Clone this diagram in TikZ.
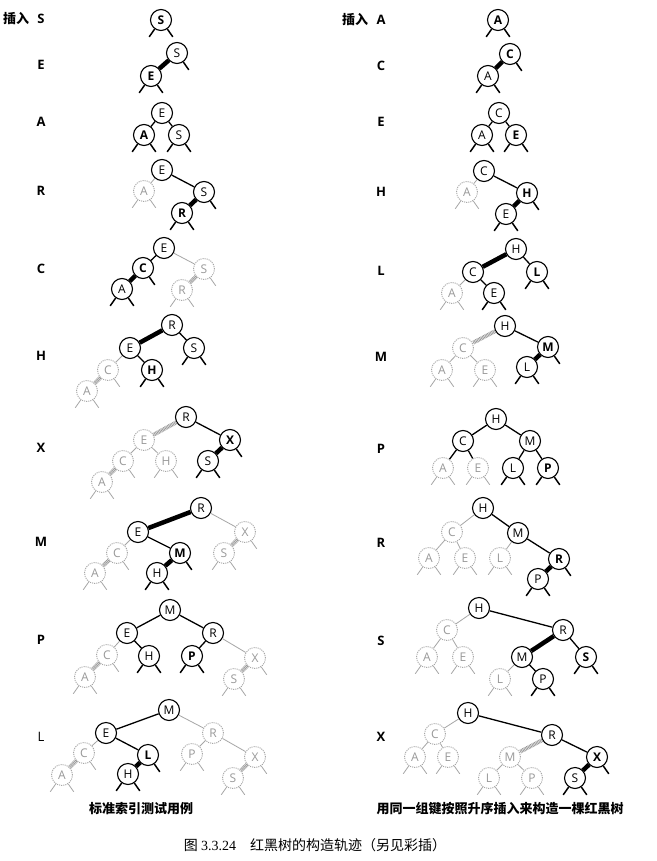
\documentclass[tikz,border=0pt]{standalone}
\usepackage{fontspec}
\newfontfamily\cjk{Noto Sans CJK SC}
\newfontfamily\nfont{Open Sans}
\newfontfamily\capser{Liberation Serif}
\tikzset{
  bn/.style={circle,draw=black,line width=1.1pt,fill=white,minimum size=21pt,inner sep=0pt,font=\nfont\fontsize{12}{12}\selectfont},
  bb/.style={bn,font=\nfont\bfseries\fontsize{12}{12}\selectfont},
  gn/.style={bn,draw=black!35,densely dotted,line width=0.9pt,text=black!40},
  lk/.style={line width=1.3pt,black},
  rl/.style={line width=4.5pt,black},
  gl/.style={line width=0.8pt,black!35},
  grl/.style={line width=4pt,black!40,dash pattern=on 0.8pt off 0.7pt},
  stb/.style={line width=1.5pt,black},
  gstb/.style={line width=0.8pt,black!35},
  lbl/.style={font=\nfont\bfseries\fontsize{13}{13}\selectfont,inner sep=0pt},
  capstyle/.style={font=\cjk\bfseries\fontsize{13}{13}\selectfont,inner sep=0pt},
}
\newcommand\nd[5][bn]{\node[#1] (#2) at (#3,-#4) {#5};}
\newcommand\stL[2][stb]{\draw[#1] (#2.-125) -- ++(-125:9.5);}
\newcommand\stR[2][stb]{\draw[#1] (#2.-55) -- ++(-55:9.5);}
\newcommand\stB[2][stb]{\stL[#1]{#2}\stR[#1]{#2}}
\begin{document}
\begin{tikzpicture}[x=1pt,y=1pt]
\useasboundingbox[fill=white] (0,0) rectangle (656,-861);
% ---------------- labels
\node[lbl,font=\cjk\bfseries\fontsize{13}{13}\selectfont,anchor=west] (lA0) at (3,-19) {插入};
\node[lbl] (lA1) at (41,-19) {S};
\node[lbl] (lA2) at (41,-65) {E};
\node[lbl] (lA3) at (41,-122) {A};
\node[lbl] (lA4) at (41,-191) {R};
\node[lbl] (lA5) at (41,-269) {C};
\node[lbl] (lA6) at (41,-356) {H};
\node[lbl] (lA7) at (41,-448) {X};
\node[lbl] (lA8) at (41,-542) {M};
\node[lbl] (lA9) at (41,-640) {P};
\node[lbl,font=\nfont\fontsize{13}{13}\selectfont] (lA10) at (41,-737) {L};
\node[lbl,font=\cjk\bfseries\fontsize{13}{13}\selectfont,anchor=west] (lB0) at (342,-20) {插入};
\node[lbl] (lB1) at (381,-20) {A};
\node[lbl] (lB2) at (381,-66) {C};
\node[lbl] (lB3) at (381,-122) {E};
\node[lbl] (lB4) at (381,-192) {H};
\node[lbl] (lB5) at (381,-271) {L};
\node[lbl] (lB6) at (381,-357) {M};
\node[lbl] (lB7) at (381,-449) {P};
\node[lbl] (lB8) at (381,-543) {R};
\node[lbl] (lB9) at (381,-641) {S};
\node[lbl] (lB10) at (381,-737) {X};
% ---------------- captions
\node[capstyle] (capL) at (141,-809) {标准索引测试用例};
\node[capstyle] (capR) at (500,-809) {用同一组键按照升序插入来构造一棵红黑树};
\node[inner sep=0pt,font=\cjk\fontsize{14}{14}\selectfont] (capF) at (315,-845) {图 {\capser 3.3.24}\quad 红黑树的构造轨迹（另见彩插）};
% ================= LEFT COLUMN
% L1
\nd[bb]{a1S}{161}{20}{S} \stB{a1S}
% L2
\nd{a2S}{177}{53}{S} \nd[bb]{a2E}{151}{76}{E}
\draw[rl] (a2S)--(a2E); \stR{a2S} \stB{a2E}
% L3
\nd{a3E}{162}{113}{E} \nd[bb]{a3A}{144}{135}{A} \nd{a3S}{179}{135}{S}
\draw[lk] (a3E)--(a3A) (a3E)--(a3S); \stB{a3A} \stB{a3S}
% L4
\nd{a4E}{162}{170}{E} \nd[gn]{a4A}{144}{191}{A} \nd{a4S}{204}{192}{S} \nd[bb]{a4R}{182}{213}{R}
\draw[gl] (a4E)--(a4A); \draw[lk] (a4E)--(a4S); \draw[rl] (a4S)--(a4R);
\stR{a4S} \stB{a4R} \stB[gstb]{a4A}
% L5
\nd{a5E}{164}{248}{E} \nd[bb]{a5C}{143}{268}{C} \nd{a5A}{122}{289}{A} \nd[gn]{a5S}{204}{269}{S} \nd[gn]{a5R}{182}{290}{R}
\draw[lk] (a5E)--(a5C); \draw[rl] (a5C)--(a5A); \draw[gl] (a5E)--(a5S); \draw[grl] (a5S)--(a5R);
\stR{a5C} \stB{a5A} \stR[gstb]{a5S} \stB[gstb]{a5R}
% L6
\nd{a6R}{172}{325}{R} \nd{a6E}{130}{348}{E} \nd{a6S}{194}{348}{S} \nd[bb]{a6H}{152}{370}{H} \nd[gn]{a6C}{108}{370}{C} \nd[gn]{a6A}{87}{391}{A}
\draw[rl] (a6R)--(a6E); \draw[lk] (a6R)--(a6S) (a6E)--(a6H); \draw[gl] (a6E)--(a6C); \draw[grl] (a6C)--(a6A);
\stB{a6S} \stB{a6H} \stR[gstb]{a6C} \stB[gstb]{a6A}
% L7
\nd{a7R}{186}{417}{R} \nd[bb]{a7X}{230}{440}{X} \nd{a7S}{208}{461}{S} \nd[gn]{a7E}{144}{440}{E} \nd[gn]{a7C}{123}{461}{C} \nd[gn]{a7H}{166}{461}{H} \nd[gn]{a7A}{102}{482}{A}
\draw[lk] (a7R)--(a7X); \draw[rl] (a7X)--(a7S); \draw[grl] (a7R)--(a7E); \draw[gl] (a7E)--(a7C) (a7E)--(a7H); \draw[grl] (a7C)--(a7A);
\stR{a7X} \stB{a7S} \stR[gstb]{a7C} \stB[gstb]{a7H} \stB[gstb]{a7A}
% L8
\nd{a8R}{201}{508}{R} \nd{a8E}{138}{532}{E} \nd[bb]{a8M}{180}{553}{M} \nd{a8H}{157}{573}{H} \nd[gn]{a8X}{245}{532}{X} \nd[gn]{a8S}{224}{553}{S} \nd[gn]{a8C}{117}{553}{C} \nd[gn]{a8A}{95}{573}{A}
\draw[rl] (a8R)--(a8E); \draw[lk] (a8E)--(a8M); \draw[rl] (a8M)--(a8H); \draw[gl] (a8R)--(a8X) (a8E)--(a8C); \draw[grl] (a8X)--(a8S) (a8C)--(a8A);
\stR{a8M} \stB{a8H} \stR[gstb]{a8X} \stB[gstb]{a8S} \stR[gstb]{a8C} \stB[gstb]{a8A}
% L9
\nd{a9M}{170}{610}{M} \nd{a9E}{127}{633}{E} \nd{a9R}{213}{633}{R} \nd{a9H}{149}{656}{H} \nd[bb]{a9P}{192}{656}{P} \nd[gn]{a9C}{107}{655}{C} \nd[gn]{a9A}{85}{677}{A} \nd[gn]{a9X}{255}{658}{X} \nd[gn]{a9S}{234}{679}{S}
\draw[lk] (a9M)--(a9E) (a9M)--(a9R) (a9E)--(a9H) (a9R)--(a9P); \draw[gl] (a9E)--(a9C) (a9R)--(a9X); \draw[grl] (a9C)--(a9A) (a9X)--(a9S);
\stB{a9H} \stB{a9P} \stR[gstb]{a9C} \stR[gstb]{a9X} \stB[gstb]{a9A} \stB[gstb]{a9S}
% L10
\nd{a10M}{169}{710}{M} \nd{a10E}{106}{733}{E} \nd[bb]{a10L}{148}{755}{L} \nd{a10H}{128}{774}{H} \nd[gn]{a10C}{84}{753}{C} \nd[gn]{a10A}{62}{775}{A} \nd[gn]{a10R}{213}{733}{R} \nd[gn]{a10P}{192}{754}{P} \nd[gn]{a10X}{255}{757}{X} \nd[gn]{a10S}{233}{778}{S}
\draw[lk] (a10M)--(a10E) (a10E)--(a10L); \draw[rl] (a10L)--(a10H); \draw[gl] (a10E)--(a10C) (a10M)--(a10R) (a10R)--(a10P) (a10R)--(a10X); \draw[grl] (a10C)--(a10A) (a10X)--(a10S);
\stR{a10L} \stB{a10H} \stR[gstb]{a10C} \stB[gstb]{a10A} \stB[gstb]{a10P} \stR[gstb]{a10X} \stB[gstb]{a10S}
% ================= RIGHT COLUMN
% R1
\nd[bb]{b1A}{498}{20}{A} \stB{b1A}
% R2
\nd[bb]{b2C}{510}{54}{C} \nd{b2A}{488}{76}{A}
\draw[rl] (b2C)--(b2A); \stR{b2C} \stB{b2A}
% R3
\nd{b3C}{499}{113}{C} \nd{b3A}{482}{135}{A} \nd[bb]{b3E}{516}{135}{E}
\draw[lk] (b3C)--(b3A) (b3C)--(b3E); \stB{b3A} \stB{b3E}
% R4
\nd{b4C}{484}{171}{C} \nd[gn]{b4A}{467}{192}{A} \nd[bb]{b4H}{527}{193}{H} \nd{b4E}{506}{214}{E}
\draw[gl] (b4C)--(b4A); \draw[lk] (b4C)--(b4H); \draw[rl] (b4H)--(b4E);
\stR{b4H} \stB{b4E} \stB[gstb]{b4A}
% R5
\nd{b5H}{516}{249}{H} \nd{b5C}{473}{272}{C} \nd[bb]{b5L}{537}{272}{L} \nd{b5E}{494}{293}{E} \nd[gn]{b5A}{452}{293}{A}
\draw[rl] (b5H)--(b5C); \draw[lk] (b5H)--(b5L) (b5C)--(b5E); \draw[gl] (b5C)--(b5A);
\stB{b5L} \stB{b5E} \stB[gstb]{b5A}
% R6
\nd{b6H}{505}{326}{H} \nd[bb]{b6M}{548}{347}{M} \nd{b6L}{527}{367}{L} \nd[gn]{b6C}{463}{348}{C} \nd[gn]{b6A}{442}{370}{A} \nd[gn]{b6E}{485}{370}{E}
\draw[grl] (b6H)--(b6C); \draw[lk] (b6H)--(b6M); \draw[rl] (b6M)--(b6L); \draw[gl] (b6C)--(b6A) (b6C)--(b6E);
\stR{b6M} \stB{b6L} \stB[gstb]{b6A} \stB[gstb]{b6E}
% R7
\nd{b7H}{496}{419}{H} \nd{b7C}{463}{441}{C} \nd{b7M}{530}{441}{M} \nd[gn]{b7A}{443}{468}{A} \nd[gn]{b7E}{478}{468}{E} \nd{b7L}{513}{468}{L} \nd[bb]{b7P}{548}{468}{P}
\draw[lk] (b7H)--(b7C) (b7H)--(b7M) (b7M)--(b7L) (b7M)--(b7P) (b7C)--(b7A) (b7C)--(b7E);
\stB{b7L} \stB{b7P} \stB[gstb]{b7A} \stB[gstb]{b7E}
% R8
\nd{b8H}{483}{508}{H} \nd{b8M}{518}{533}{M} \nd[bb]{b8R}{559}{559}{R} \nd{b8P}{538}{579}{P} \nd[gn]{b8C}{452}{532}{C} \nd[gn]{b8A}{429}{558}{A} \nd[gn]{b8E}{465}{558}{E} \nd[gn]{b8L}{500}{558}{L}
\draw[lk] (b8H)--(b8M) (b8M)--(b8R); \draw[rl] (b8R)--(b8P); \draw[gl] (b8H)--(b8C) (b8M)--(b8L) (b8C)--(b8A) (b8C)--(b8E);
\stR{b8R} \stB{b8P} \stB[gstb]{b8A} \stB[gstb]{b8E} \stB[gstb]{b8L}
% R9
\nd{b9H}{479}{608}{H} \nd{b9R}{563}{630}{R} \nd{b9M}{522}{657}{M} \nd[bb]{b9S}{586}{657}{S} \nd{b9P}{543}{679}{P} \nd[gn]{b9L}{500}{679}{L} \nd[gn]{b9C}{447}{630}{C} \nd[gn]{b9A}{427}{657}{A} \nd[gn]{b9E}{463}{657}{E}
\draw[lk] (b9H)--(b9R) (b9R)--(b9S) (b9M)--(b9P); \draw[rl] (b9R)--(b9M); \draw[gl] (b9M)--(b9L) (b9H)--(b9C) (b9C)--(b9A) (b9C)--(b9E);
\stB{b9S} \stB{b9P} \stB[gstb]{b9L} \stB[gstb]{b9A} \stB[gstb]{b9E}
% R10
\nd{b10H}{468}{713}{H} \nd{b10R}{552}{735}{R} \nd[bb]{b10X}{597}{757}{X} \nd{b10S}{575}{778}{S} \nd[gn]{b10M}{510}{757}{M} \nd[gn]{b10L}{489}{778}{L} \nd[gn]{b10P}{532}{778}{P} \nd[gn]{b10C}{435}{734}{C} \nd[gn]{b10A}{415}{757}{A} \nd[gn]{b10E}{448}{757}{E}
\draw[lk] (b10H)--(b10R) (b10R)--(b10X); \draw[rl] (b10X)--(b10S); \draw[grl] (b10R)--(b10M); \draw[gl] (b10M)--(b10L) (b10M)--(b10P) (b10H)--(b10C) (b10C)--(b10A) (b10C)--(b10E);
\stR{b10X} \stB{b10S} \stB[gstb]{b10L} \stB[gstb]{b10P} \stB[gstb]{b10A} \stB[gstb]{b10E}
\end{tikzpicture}
\end{document}
